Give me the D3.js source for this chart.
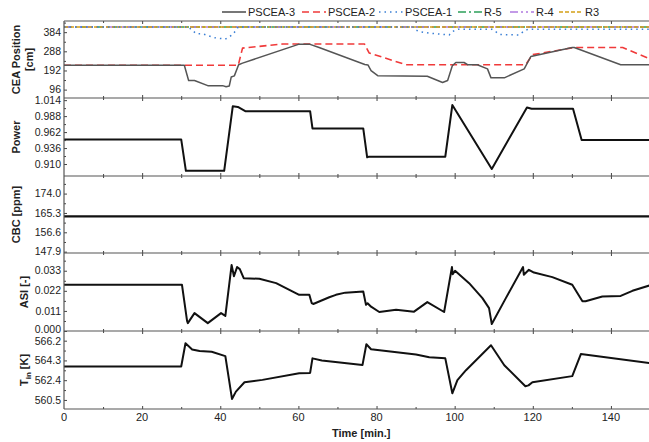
<!DOCTYPE html>
<html>
<head>
<meta charset="utf-8">
<script src="https://d3js.org/d3.v7.min.js"></script>
<style>
  body { margin: 0; background: #fff; }
  text { font-family: "Liberation Sans", Arial, sans-serif; }
  .ylab { font-size: 11px; font-weight: bold; fill: #222; }
  .leg { font-size: 11px; fill: #222; }
</style>
</head>
<body>
<div id="chart"></div>
<script>
// ---- data ----
const timeTicks = [0, 20, 40, 60, 80, 100, 120, 140];

const ceaTicks = [96, 192, 288, 384];
const powerTicks = [0.910, 0.936, 0.962, 0.988, 1.014];
const cbcTicks = [147.9, 156.6, 165.3, 174.0];
const asiTicks = [0.000, 0.011, 0.022, 0.033];
const tinTicks = [560.5, 562.4, 564.3, 566.2];

// [time, value]
const pscea3 = [[0,218],[30.8,218],[31.9,142],[33.4,142],[36.8,116],[40.6,116],[41.5,110],[42.3,114],[42.8,159],[43.6,165],[44.7,221],[45.7,229],
  [60.2,324],[62.8,324],[65.3,307],[77.0,222],[77.8,220],[78.6,191],[80.3,166],[93,163],[96.9,132],[98.2,142],[99.4,216],[100.3,232],
  [102.4,232],[103.3,221],[105.8,221],[108.4,200],[109.3,155],[112.7,155],[117.8,200],[119.5,262],[130.1,307],[130.6,307],[142.5,221],[150,221]];
const pscea2 = [[0,218],[44.6,218],[45.7,304],[56,325],[76.9,325],[78.1,280],[87.5,221],[118.2,221],[119.9,271],[130.6,307],[143,307],[150,250]];
const pscea1 = [[0,410],[32.1,410],[32.4,399],[33.9,376],[35.5,376],[38.3,357],[41.3,349],[43.2,372],[44.2,399],[44.6,410],
  [89.4,410],[89.6,399],[91,387],[93.5,379],[98.6,370],[99.4,387],[100.9,399],[109.5,399],[111.6,372],[116.3,370],[118,392],[118.8,399],[150,399]];
const r5 = [[0,410],[150,410]];
const r4 = [[0,410],[150,410]];
const r3 = [[0,410],[150,410]];

const power = [[0,0.950],[30,0.950],[31.2,0.899],[41,0.899],[43.2,1.004],[44.5,1.003],[46.4,0.996],[63,0.996],[63.6,0.968],[76.6,0.968],
  [77.6,0.921],[78.1,0.922],[97.6,0.922],[99.4,1.006],[109.5,0.902],[118.5,1.002],[119.7,1.000],[130.3,1.000],[132.5,0.949],[150,0.949]];

const cbc = [[0,163.8],[150,163.8]];

const asi = [[0,0.0253],[30.2,0.0253],[31.5,0.0055],[31.7,0.0043],[33.4,0.0098],[36.8,0.0043],[40.2,0.0098],[41.3,0.0083],[42.9,0.0361],[43.5,0.0300],
  [44.3,0.0350],[45,0.0339],[46,0.0289],[50,0.0286],[54.3,0.0262],[60.2,0.0198],[62.8,0.0198],[63.4,0.0153],[63.8,0.0148],[67.9,0.0185],
  [69.6,0.0198],[72,0.0210],[76.6,0.0216],[77.3,0.0143],[77.7,0.0152],[78.6,0.0133],[80.7,0.0104],[85,0.0116],[89.6,0.0106],[93,0.0158],
  [97.3,0.0104],[99.3,0.0350],[99.5,0.0311],[100.1,0.0330],[103.7,0.0262],[107.1,0.0180],[108.8,0.0125],[109.5,0.0038],[113.1,0.0180],
  [117.5,0.0350],[117.7,0.0308],[119,0.0335],[120.3,0.0320],[125,0.0295],[130.1,0.0253],[132.7,0.0163],[133.5,0.0163],[137.8,0.0189],
  [142.5,0.0192],[145.5,0.0220],[150,0.0250]];

const tin = [[0,563.72],[30,563.72],[31.1,565.95],[32.8,565.36],[34.7,565.20],[37.8,565.13],[41.3,564.71],[43,560.60],[44,561.30],[46.2,562.20],
  [50.8,562.43],[60.2,563.07],[63,563.10],[63.6,564.50],[66,564.30],[76.4,563.85],[77.4,565.86],[78.6,565.38],[90.1,564.87],[93.5,564.60],
  [97.6,564.50],[99.4,561.14],[100.7,562.40],[102.9,563.36],[109.3,565.76],[112.7,563.84],[118.1,561.82],[118.9,561.90],[119.9,562.20],
  [130.1,562.79],[132.3,564.91],[150,564.05]];

// ---- layout ----
const W = 649, H = 442;
const x0 = 64, x1 = 650;
const svg = d3.select("#chart").append("svg").attr("width", W).attr("height", H);

const x = d3.scaleLinear().domain([0, 150]).range([x0, x1]);

const panels = [
  {top: 21, bot: 98, domain: [54, 440], ticks: ceaTicks, fmt: d3.format("d"), label: ["CEA Position", "[cm]"], labX: 20,
   series: [
     {data: r5, color: "#2ca05a", dash: "8,3,2,3", w: 1.3},
     {data: r4, color: "#b07ae0", dash: "8,3,2,3,2,3", w: 1.3},
     {data: r3, color: "#d4a017", dash: "4,2", w: 1.3},
     {data: pscea1, color: "#3a7fd5", dash: "1.5,4", w: 1.5},
     {data: pscea2, color: "#f03a3a", dash: "7,4", w: 1.6},
     {data: pscea3, color: "#555", dash: null, w: 1.5}
   ]},
  {top: 98, bot: 176, domain: [0.8905, 1.0175], ticks: powerTicks, fmt: d3.format(".3f"), label: ["Power"], labX: 20,
   series: [{data: power, color: "#111", dash: null, w: 2}]},
  {top: 176, bot: 253, domain: [147.3, 181.9], ticks: cbcTicks, fmt: d3.format(".1f"), label: ["CBC [ppm]"], labX: 20,
   series: [{data: cbc, color: "#111", dash: null, w: 2.2}]},
  {top: 253, bot: 331, domain: [0, 0.0427], ticks: asiTicks, fmt: d3.format(".3f"), label: ["ASI [-]"], labX: 28,
   series: [{data: asi, color: "#111", dash: null, w: 2}]},
  {top: 331, bot: 409, domain: [559.63, 567.13], ticks: tinTicks, fmt: d3.format(".1f"), label: null, labX: 28,
   series: [{data: tin, color: "#111", dash: null, w: 2}]}
];

panels.forEach(function(p, i) {
  const y = d3.scaleLinear().domain(p.domain).range([p.bot, p.top]);
  const g = svg.append("g");

  // series
  const clipId = "clip" + i;
  svg.append("clipPath").attr("id", clipId).append("rect")
    .attr("x", x0).attr("y", p.top).attr("width", x1 - x0).attr("height", p.bot - p.top);
  const line = d3.line().x(d => x(d[0])).y(d => y(d[1]));
  p.series.forEach(function(s) {
    g.append("path")
      .datum(s.data)
      .attr("clip-path", "url(#" + clipId + ")")
      .attr("fill", "none")
      .attr("stroke", s.color)
      .attr("stroke-width", s.w)
      .attr("stroke-dasharray", s.dash)
      .attr("stroke-linejoin", "round")
      .attr("d", line);
  });

  // y axis
  const step = p.ticks[1] - p.ticks[0];
  const minor = p.ticks.map(t => t + step / 2).filter(t => t < p.domain[1]);
  const ya = svg.append("g").attr("transform", "translate(" + x0 + ",0)");
  ya.call(d3.axisRight(y).tickValues(p.ticks).tickFormat("").tickSize(3))
    .call(a => a.select(".domain").remove());
  ya.append("g").call(d3.axisRight(y).tickValues(minor).tickFormat("").tickSize(2))
    .call(a => a.select(".domain").remove());
  ya.selectAll("line").attr("stroke", "#444");
  p.ticks.forEach(function(t) {
    // nudge the two labels that sit right at a panel join so they don't collide
    let dy = 0;
    if (i === 3 && t === 0) dy = -1.5;
    if (i === 4 && t === 566.2) dy = 1;
    ya.append("text")
      .attr("x", -3).attr("y", y(t) + dy).attr("dy", "0.35em")
      .attr("text-anchor", "end").style("font-size", "10.5px").style("fill", "#222")
      .text(p.fmt(t));
  });

  // x ticks on top and bottom edges, pointing inward
  const minorX = d3.range(10, 150, 20);
  [[p.top, d3.axisBottom], [p.bot, d3.axisTop]].forEach(function(e) {
    const a = svg.append("g").attr("transform", "translate(0," + e[0] + ")");
    a.call(e[1](x).tickValues(timeTicks.slice(1)).tickFormat("").tickSize(3))
      .call(s => s.select(".domain").remove());
    a.append("g").call(e[1](x).tickValues(minorX).tickFormat("").tickSize(2))
      .call(s => s.select(".domain").remove());
    a.selectAll("line").attr("stroke", "#444");
  });

  // frame lines
  svg.append("line").attr("x1", x0).attr("x2", x1).attr("y1", p.top).attr("y2", p.top)
    .attr("stroke", "#555").attr("stroke-width", 1.2);

  // y label
  const cy = (p.top + p.bot) / 2;
  if (p.label) {
    p.label.forEach(function(l, k) {
      svg.append("text").attr("class", "ylab")
        .attr("transform", "translate(" + (p.labX + k * 13) + "," + cy + ") rotate(-90)")
        .attr("text-anchor", "middle").text(l);
    });
  } else {
    const t = svg.append("text").attr("class", "ylab")
      .attr("transform", "translate(" + p.labX + "," + cy + ") rotate(-90)")
      .attr("text-anchor", "middle");
    t.append("tspan").text("T");
    t.append("tspan").attr("dy", 3).style("font-size", "8px").text("in");
    t.append("tspan").attr("dy", -3).text(" [K]");
  }
});

// bottom frame and left axis line
svg.append("line").attr("x1", x0).attr("x2", x1).attr("y1", 409).attr("y2", 409)
  .attr("stroke", "#555").attr("stroke-width", 1.2);
svg.append("line").attr("x1", x0).attr("x2", x0).attr("y1", 21).attr("y2", 409)
  .attr("stroke", "#555").attr("stroke-width", 1.2);

// x tick labels
timeTicks.forEach(function(t) {
  svg.append("text").attr("x", x(t)).attr("y", 421).attr("text-anchor", "middle")
    .style("font-size", "11px").style("fill", "#222").text(t);
});
svg.append("text").attr("class", "ylab").attr("x", 332).attr("y", 437)
  .attr("text-anchor", "start").text("Time [min.]");

// legend
const legend = [
  {name: "PSCEA-3", color: "#555", dash: null, x: 222},
  {name: "PSCEA-2", color: "#f03a3a", dash: "7,4", x: 302},
  {name: "PSCEA-1", color: "#3a7fd5", dash: "1.5,4", x: 379},
  {name: "R-5", color: "#2ca05a", dash: "8,3,2,3", x: 458},
  {name: "R-4", color: "#b07ae0", dash: "8,3,2,3,2,3", x: 510},
  {name: "R3", color: "#d4a017", dash: "4,2", x: 559}
];
legend.forEach(function(l) {
  svg.append("line").attr("x1", l.x).attr("x2", l.x + 24).attr("y1", 12).attr("y2", 12)
    .attr("stroke", l.color).attr("stroke-width", 1.6).attr("stroke-dasharray", l.dash);
  svg.append("text").attr("class", "leg").attr("x", l.x + 26).attr("y", 16).text(l.name);
});
</script>
</body>
</html>
